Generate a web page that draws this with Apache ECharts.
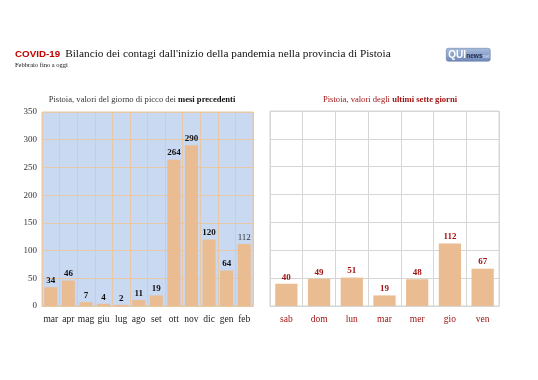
<!DOCTYPE html>
<html><head><meta charset="utf-8">
<script src="https://cdn.jsdelivr.net/npm/echarts@6/dist/echarts.min.js"></script>
<style>html,body{margin:0;padding:0;background:#fff}#c{width:538px;height:380px}</style>
</head><body><div id="c"></div>
<script>
const monthCats = ['mar','apr','mag','giu','lug','ago','set','ott','nov','dic','gen','feb'];
const monthVals = [34,46,7,4,2,11,19,264,290,120,64,112];
const dayCats = ['sab','dom','lun','mar','mer','gio','ven'];
const dayVals = [40,49,51,19,48,112,67];
const yTicks = [0,50,100,150,200,250,300,350];

const serif = '"Liberation Serif", "DejaVu Serif", serif';
const chart = echarts.init(document.getElementById('c'));
const barColor = '#e9bc92';
const darkRed = '#a31515';

chart.setOption({
  animation: false,
  backgroundColor: '#ffffff',
  title: [
    {
      left: 10, top: 40, padding: 5,
      text: '{a|COVID-19} {b|Bilancio dei contagi dall\'inizio della pandemia nella provincia di Pistoia}',
      textStyle: { fontWeight: 'normal', rich: {
        a: { fontFamily: '"Liberation Sans", Arial, sans-serif', fontWeight: 'bold', fontSize: 9.8, color: '#c00000' },
        b: { fontFamily: serif, fontWeight: 'normal', fontSize: 11.3, color: '#111' }
      } }
    },
    {
      left: 10, top: 57,
      text: 'Febbraio fino a oggi',
      textStyle: { fontFamily: serif, fontSize: 6.5, fontWeight: 'normal', color: '#111' }
    },
    {
      left: 137, top: 90, textAlign: 'center',
      text: '{a|Pistoia, valori del giorno di picco dei }{b|mesi precedenti}',
      textStyle: { fontWeight: 'normal', rich: {
        a: { fontFamily: serif, fontWeight: 'normal', fontSize: 8.6, color: '#333' },
        b: { fontFamily: serif, fontSize: 8.6, fontWeight: 'bold', color: '#111' }
      } }
    },
    {
      left: 385, top: 90, textAlign: 'center',
      text: '{a|Pistoia, valori degli }{b|ultimi sette giorni}',
      textStyle: { fontWeight: 'normal', rich: {
        a: { fontFamily: serif, fontWeight: 'normal', fontSize: 8.6, color: darkRed },
        b: { fontFamily: serif, fontSize: 8.6, fontWeight: 'bold', color: darkRed }
      } }
    }
  ],
  graphic: [
    {
      type: 'group', left: 446, top: 48,
      children: [
        { type: 'rect', shape: { x: 0, y: 0, width: 44, height: 13, r: 2 },
          style: { fill: new echarts.graphic.LinearGradient(0,0,0,1,[{offset:0,color:'#a9bddc'},{offset:1,color:'#6f88b8'}]), stroke: '#5a73a3', lineWidth: 0.5 } },
        { type: 'text', x: 2, y: 7, style: { text: 'QUI', fill: '#fff', font: 'bold 10px "Liberation Sans", sans-serif', verticalAlign: 'middle' } },
        { type: 'text', x: 20, y: 7.5, style: { text: 'news', fill: '#1d2b4a', font: 'bold 6.5px "Liberation Sans", sans-serif', verticalAlign: 'middle' } },
        { type: 'text', x: 35, y: 8, style: { text: '.net', fill: '#d6e0f0', font: '5px "Liberation Sans", sans-serif', verticalAlign: 'middle' } }
      ]
    }
  ],
  grid: [
    { left: 42, top: 112, width: 211, height: 194, show: true, backgroundColor: '#c9d9f2', borderColor: '#e6c7a6', borderWidth: 1 },
    { left: 270, top: 111, width: 229, height: 195, show: true, backgroundColor: '#ffffff', borderColor: '#d6d6d6', borderWidth: 1 }
  ],
  xAxis: [
    {
      type: 'category', gridIndex: 0, data: monthCats,
      axisLine: { show: true, lineStyle: { color: '#e6c7a6' } }, axisTick: { show: false },
      splitLine: { show: true, lineStyle: { color: '#e6c7a6', width: 1 } },
      axisLabel: { fontFamily: serif, fontSize: 9.5, color: '#222', margin: 8, interval: 0 }
    },
    {
      type: 'category', gridIndex: 1, data: dayCats,
      axisLine: { show: true, lineStyle: { color: '#d6d6d6' } }, axisTick: { show: false },
      splitLine: { show: true, lineStyle: { color: '#d6d6d6', width: 1 } },
      axisLabel: { fontFamily: serif, fontSize: 9.5, color: darkRed, margin: 8, interval: 0 }
    }
  ],
  yAxis: [
    {
      type: 'value', gridIndex: 0, min: yTicks[0], max: yTicks[yTicks.length-1], interval: 50,
      axisLine: { show: false }, axisTick: { show: false },
      splitLine: { show: true, lineStyle: { color: '#e6c7a6', width: 1 } },
      axisLabel: { fontFamily: serif, fontSize: 9, color: '#333', margin: 5 }
    },
    {
      type: 'value', gridIndex: 1, min: yTicks[0], max: yTicks[yTicks.length-1], interval: 50,
      axisLine: { show: false }, axisTick: { show: false },
      splitLine: { show: true, lineStyle: { color: '#d6d6d6', width: 1 } },
      axisLabel: { show: false }
    }
  ],
  series: [
    {
      type: 'bar', xAxisIndex: 0, yAxisIndex: 0, barCategoryGap: '26%',
      data: monthVals.map((v, i) => i === monthVals.length - 1
        ? { value: v, label: { fontWeight: 'normal', color: '#333' } } : v),
      itemStyle: { color: barColor },
      label: { show: true, position: 'top', distance: 2, fontFamily: serif, fontSize: 9, fontWeight: 'bold', color: '#111' }
    },
    {
      type: 'bar', xAxisIndex: 1, yAxisIndex: 1, barCategoryGap: '32%',
      data: dayVals,
      itemStyle: { color: barColor },
      label: { show: true, position: 'top', distance: 2, fontFamily: serif, fontSize: 9, fontWeight: 'bold', color: darkRed }
    }
  ]
});
</script></body></html>
